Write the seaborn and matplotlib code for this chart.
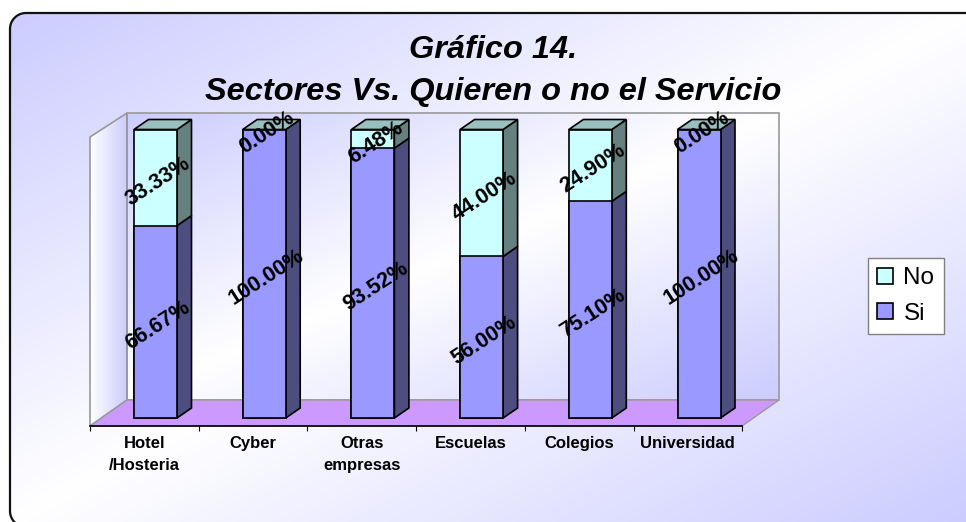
import numpy as np
import pandas as pd
import matplotlib
matplotlib.use('Agg')
import matplotlib.pyplot as plt
from matplotlib.patches import Polygon
import seaborn as sns

sectores = ['Hotel\n/Hosteria', 'Cyber', 'Otras\nempresas', 'Escuelas', 'Colegios', 'Universidad']
si = [66.67, 100.00, 93.52, 56.00, 75.10, 100.00]
no = [33.33, 0.00, 6.48, 44.00, 24.90, 0.00]
titulo = 'Gráfico 14.\nSectores Vs. Quieren o no el Servicio'

W, H = 966, 522
# pixel layout of the front plane of the bars
X0, STEP = 155.5, 108.7
Y0, PX_PCT = 418.0, 2.885
DX, DY = 14.5, 10.0
BAR_W = 43.0 / STEP

sns.set_theme(style='white')
plt.rcParams['font.family'] = ['Liberation Sans', 'DejaVu Sans']

df = pd.DataFrame({'sector': sectores, 'si': si, 'no': no})
df['total'] = df['si'] + df['no']

LAVANDA = np.array([204, 204, 255]) / 255


def degradado(nx, ny, u, v):
    # diagonal gradient lavender -> white -> lavender
    xx, yy = np.meshgrid(np.linspace(0, 1, nx), np.linspace(0, 1, ny))
    t = np.abs(u * xx + v * yy - 0.5) * 2
    return 1 - (1 - LAVANDA) * t[..., None]


def esquinas(x0, y0, x1, y1, r):
    # rounded rectangle as plain line segments (curves get mangled at the figure edge)
    ang = np.linspace(0, np.pi / 2, 20)
    c, s = np.cos(ang), np.sin(ang)
    tl = np.c_[x0 + r - r * c, y0 + r - r * s]
    tr = np.c_[x1 - r + r * s, y0 + r - r * c]
    br = np.c_[x1 - r + r * c, y1 - r + r * s]
    bl = np.c_[x0 + r - r * s, y1 - r + r * c]
    return np.vstack([tl, tr, br, bl])


fig = plt.figure(figsize=(W / 100, H / 100), dpi=100, facecolor='white')

# background, walls and floor in pixel coordinates
bg = fig.add_axes([0, 0, 1, 1])
bg.set_xlim(0, W)
bg.set_ylim(H, 0)
bg.axis('off')
marco = Polygon(esquinas(10, 13, 1000, 527, 16), closed=True, fc='none', ec='#111111', lw=1.6, zorder=5)
bg.add_patch(marco)
im = bg.imshow(degradado(300, 200, 0.5, 0.5), extent=(10, W, H, 13), aspect='auto', zorder=1)
im.set_clip_path(marco)

pared = bg.imshow(degradado(300, 200, 0.5, 0.5), extent=(127, 779, 400, 113), aspect='auto', zorder=2)
lado = Polygon([(90, 137), (127, 113), (127, 400), (90, 426)], closed=True, fc='none', ec='#999999', lw=1.2, zorder=3)
bg.add_patch(lado)
grad_lado = np.linspace(1, 0, 100)[None, :, None]
im_lado = bg.imshow(1 - (1 - LAVANDA) * (1 - grad_lado), extent=(90, 127, 426, 113), aspect='auto', zorder=2)
im_lado.set_clip_path(lado)
bg.add_patch(Polygon([(127, 113), (779, 113), (779, 400), (127, 400)], closed=True, fc='none', ec='#999999', lw=1.2, zorder=3))
bg.add_patch(Polygon([(90, 426), (127, 400), (779, 400), (742, 426)], closed=True, fc='#CC99FF', ec='#999999', lw=1, zorder=3))
bg.set_xlim(0, W)
bg.set_ylim(H, 0)

# chart axes: category i sits on X0 + STEP * i, percent p on Y0 - PX_PCT * p
ax = fig.add_axes([0, 0, 1, 1], facecolor='none')
sns.barplot(data=df, x='sector', y='total', color='#CCFFFF', label='No', width=BAR_W, saturation=1,
            edgecolor='black', linewidth=1.2, ax=ax, zorder=4)
sns.barplot(data=df, x='sector', y='si', color='#9999FF', label='Si', width=BAR_W, saturation=1,
            edgecolor='black', linewidth=1.2, ax=ax, zorder=4)
ax.set_xlim(-X0 / STEP, (W - X0) / STEP)
ax.set_ylim((Y0 - H) / PX_PCT, Y0 / PX_PCT)
ax.set_xlabel('')
ax.set_ylabel('')

dx = DX / STEP
dy = DY / PX_PCT
hw = BAR_W / 2
for i in range(len(sectores)):
    a, b = si[i], si[i] + no[i]
    r = i + hw
    ax.add_patch(Polygon([(r, 0), (r + dx, dy), (r + dx, a + dy), (r, a)], closed=True,
                         fc='#4D4D80', ec='black', lw=1.2, zorder=3))
    if no[i] > 0:
        ax.add_patch(Polygon([(r, a), (r + dx, a + dy), (r + dx, b + dy), (r, b)], closed=True,
                             fc='#668080', ec='black', lw=1.2, zorder=3))
    ax.add_patch(Polygon([(i - hw, b), (i - hw + dx, b + dy), (r + dx, b + dy), (r, b)], closed=True,
                         fc='#99BFBF', ec='black', lw=1.2, zorder=3))
    # data labels, close to the middle of each block
    ax.text(i + 2.5 / STEP, a / 2 - 3.5 / PX_PCT, f'{si[i]:.2f}%', rotation=33, rotation_mode='anchor',
            ha='center', va='center', fontsize=15.5, fontweight='bold', color='black', zorder=6)
    ax.text(i + 2.5 / STEP, a + no[i] / 2 - 3.5 / PX_PCT, f'{no[i]:.2f}%', rotation=33, rotation_mode='anchor',
            ha='center', va='center', fontsize=15.5, fontweight='bold', color='black', zorder=6)

# axis line on the front edge of the floor, shifted left of the bars by the depth
corte = -(X0 - 90) / STEP
ax.spines[['top', 'left', 'right']].set_visible(False)
ax.spines['bottom'].set_position(('data', (Y0 - 426) / PX_PCT))
ax.spines['bottom'].set_bounds(corte, corte + 6)
ax.spines['bottom'].set_color('black')
ax.spines['bottom'].set_linewidth(1.2)
ax.spines['bottom'].set_zorder(7)
ax.set_xticks([corte + k for k in range(7)])
ax.set_xticklabels([])
ax.set_xticks([corte + k + 0.5 for k in range(6)], labels=sectores, minor=True)
ax.tick_params(axis='x', which='major', bottom=True, length=3.5, width=0.8, color='black')
ax.tick_params(axis='x', which='minor', bottom=False, length=0, pad=7.5, labelsize=12)
for t in ax.get_xticklabels(minor=True):
    t.set_fontweight('bold')
    t.set_linespacing(1.55)
    t.set_color('black')
    t.set_va('top')
ax.set_yticks([])

h, l = ax.get_legend_handles_labels()
ley = ax.legend(h, l, loc='upper left', bbox_to_anchor=(868 / W, 1 - 258 / H), bbox_transform=fig.transFigure,
                fontsize=17.5, frameon=True, fancybox=False, edgecolor='#808080', framealpha=1, facecolor='white',
                handlelength=0.66, handleheight=0.62, handletextpad=0.42, labelspacing=0.56,
                borderpad=0.38, borderaxespad=0, labelcolor='black')
ley.set_zorder(8)
for p in ley.get_patches():
    p.set_edgecolor('black')

fig.text(493 / W, 1 - 71 / H, titulo, ha='center', va='center', fontsize=23.4, fontweight='bold',
         fontstyle='italic', color='black', linespacing=1.5)

fig.savefig('out.png', dpi=100)
